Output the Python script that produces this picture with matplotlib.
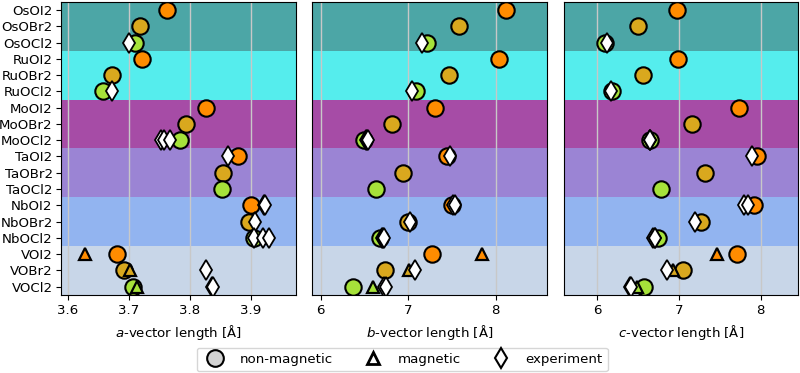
import matplotlib
matplotlib.use("Agg")
import matplotlib.pyplot as plt
from matplotlib.lines import Line2D

compounds = ["OsOI2", "OsOBr2", "OsOCl2", "RuOI2", "RuOBr2", "RuOCl2",
             "MoOI2", "MoOBr2", "MoOCl2", "TaOI2", "TaOBr2", "TaOCl2",
             "NbOI2", "NbOBr2", "NbOCl2", "VOI2", "VOBr2", "VOCl2"]

# non-magnetic calculations
nm_a = [3.762, 3.719, 3.710, 3.721, 3.672, 3.657, 3.826, 3.793, 3.784,
        3.879, 3.855, 3.852, 3.901, 3.897, 3.905, 3.681, 3.692, 3.707]
nm_b = [8.118, 7.584, 7.218, 8.041, 7.470, 7.089, 7.306, 6.815, 6.495,
        7.440, 6.937, 6.629, 7.505, 7.001, 6.678, 7.268, 6.731, 6.373]
nm_c = [6.971, 6.502, 6.094, 6.984, 6.559, 6.176, 7.735, 7.163, 6.645,
        7.959, 7.314, 6.776, 7.918, 7.269, 6.747, 7.706, 7.053, 6.572]

# magnetic calculations
mag_compounds = ["VOI2", "VOBr2", "VOCl2"]
mag_a = [3.628, 3.702, 3.714]
mag_b = [7.847, 7.009, 6.601]
mag_c = [7.469, 6.923, 6.482]

# experiments
exp_compounds = ["OsOCl2", "RuOCl2", "MoOCl2", "MoOCl2", "MoOCl2", "TaOI2",
                 "NbOI2", "NbOI2", "NbOBr2", "NbOCl2", "NbOCl2", "NbOCl2",
                 "VOBr2", "VOCl2", "VOCl2"]
exp_a = [3.701, 3.673, 3.753, 3.758, 3.767, 3.863,
         3.922, 3.924, 3.907, 3.905, 3.920, 3.930,
         3.826, 3.836, 3.838]
exp_b = [7.154, 7.040, 6.520, 6.530, 6.537, 7.478,
         7.510, 7.540, 7.020, 6.697, 6.710, 6.720,
         7.078, 6.723, 6.746]
exp_c = [6.115, 6.168, 6.640, 6.645, 6.650, 7.897,
         7.796, 7.840, 7.196, 6.686, 6.700, 6.706,
         6.857, 6.400, 6.410]

group_colors = ["#4ca6a6", "#55eded", "#a64ca6", "#9b84d4", "#92b4f0", "#c8d6e8"]
halide_colors = {"I2": "#ff8c00", "Br2": "#d9a81e", "Cl2": "#a6e23a"}

def hcolor(name):
    for k in ("I2", "Br2", "Cl2"):
        if name.endswith(k):
            return halide_colors[k]

ypos = {c: i for i, c in enumerate(compounds)}
FS = 9.6

fig = plt.figure(figsize=(8.0, 3.73), dpi=100)
bottom = 1 - 294.7 / 373
height = (1 - 2 / 373) - bottom
axes = [fig.add_axes([61 / 800, bottom, 235 / 800, height]),
        fig.add_axes([312.3 / 800, bottom, 235 / 800, height]),
        fig.add_axes([564.3 / 800, bottom, 234 / 800, height])]

panels = [(nm_a, mag_a, exp_a, (3.589, 3.974), [3.6, 3.7, 3.8, 3.9], "a"),
          (nm_b, mag_b, exp_b, (5.904, 8.59), [6, 7, 8], "b"),
          (nm_c, mag_c, exp_c, (5.596, 8.46), [6, 7, 8], "c")]

for ax, (nm, mag, ex, xl, ticks, lab) in zip(axes, panels):
    for g, col in enumerate(group_colors):
        ax.axhspan(3 * g - 0.5, 3 * g + 2.5, color=col, lw=0, zorder=0)
    ax.set_axisbelow(True)
    ax.grid(axis="x", color="#c8c8c8", lw=1.0, zorder=0.5)
    for c, v in zip(compounds, nm):
        ax.plot(v, ypos[c], "o", ms=11.8, mfc=hcolor(c), mec="black", mew=1.5, zorder=3)
    for c, v in zip(mag_compounds, mag):
        ax.plot(v, ypos[c], "^", ms=8, mfc=hcolor(c), mec="black", mew=1.6, zorder=4)
    for c, v in zip(exp_compounds, ex):
        ax.plot(v, ypos[c], "d", ms=10, mfc="white", mec="black", mew=1.3, zorder=5)
    ax.set_xlim(*xl)
    ax.set_xticks(ticks)
    ax.set_ylim(17.5, -0.5)
    ax.set_yticks(range(len(compounds)))
    ax.set_xlabel(f"${lab}$-vector length [Å]", fontsize=FS)
    ax.tick_params(labelsize=FS)

axes[0].set_yticklabels(compounds)
axes[0].tick_params(axis="y", pad=2.5)
for ax in axes[1:]:
    ax.set_yticks([])

handles = [Line2D([], [], ls="none", marker="o", ms=12, mfc="#d3d3d3", mec="black", mew=1.5),
           Line2D([], [], ls="none", marker="^", ms=8, mfc="white", mec="black", mew=2.0),
           Line2D([], [], ls="none", marker="d", ms=10, mfc="white", mec="black", mew=1.5)]
fig.legend(handles, ["non-magnetic", "magnetic", "experiment"], ncol=3,
           loc="center", bbox_to_anchor=(0.503, 0.036), fontsize=FS,
           columnspacing=2.0, handletextpad=0.85)

fig.savefig("out.png", dpi=100)
